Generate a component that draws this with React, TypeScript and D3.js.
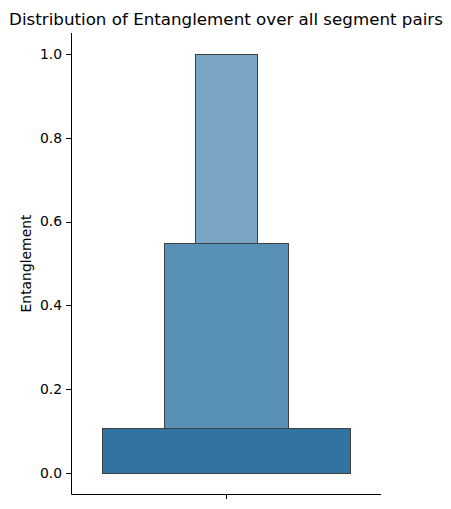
import React from "react";
import * as d3 from "d3";

const boxLower = [0, 0, 0];
const boxUpper = [0.107, 0.55, 1.0];
const boxWidth = [0.8, 0.4, 0.2];
const boxColor = ["#3274a1", "#5890b6", "#7ba5c5"];
const yTicks = [0.0, 0.2, 0.4, 0.6, 0.8, 1.0];
const category = [""];

const W = 451, H = 509;
const left = 71, right = 381, top = 33, bottom = 494;

const snap = (v: number) => Math.round(v) + 0.5;

export default function App() {
  const y = d3.scaleLinear().domain([-0.05, 1.05]).range([bottom, top]);
  const x = d3.scaleLinear().domain([-0.5, 0.5]).range([left, right]);
  const font = "DejaVu Sans, sans-serif";
  const order = d3.range(boxUpper.length).reverse();
  return (
    <svg width={W} height={H} style={{ position: "absolute", left: 0, top: 0, background: "#fff" }}>
      {order.map((i) => {
        const x0 = snap(x(-boxWidth[i] / 2));
        const x1 = snap(x(boxWidth[i] / 2));
        const y0 = snap(y(boxUpper[i]));
        const y1 = snap(y(boxLower[i]));
        return (
          <rect
            key={i}
            x={x0}
            y={y0}
            width={x1 - x0}
            height={y1 - y0}
            fill={boxColor[i]}
            stroke="#3f3f3f"
            strokeWidth={1}
          />
        );
      })}
      <line x1={snap(left)} x2={snap(left)} y1={top} y2={snap(bottom)} stroke="#000" strokeWidth={1} />
      <line x1={snap(left)} x2={right} y1={snap(bottom)} y2={snap(bottom)} stroke="#000" strokeWidth={1} />
      {yTicks.map((t) => (
        <g key={t}>
          <line x1={left - 5} x2={snap(left)} y1={snap(y(t))} y2={snap(y(t))} stroke="#000" />
          <text x={left - 9} y={y(t)} dy="0.35em" textAnchor="end" fontFamily={font} fontSize={13.9} fill="#000">
            {t.toFixed(1)}
          </text>
        </g>
      ))}
      {category.map((c, i) => (
        <g key={i}>
          <line x1={snap(x(i))} x2={snap(x(i))} y1={bottom} y2={bottom + 5} stroke="#000" />
          <text x={x(i)} y={bottom + 20} textAnchor="middle" fontFamily={font} fontSize={13.9}>{c}</text>
        </g>
      ))}
      <text
        transform={`translate(${31},${(top + bottom) / 2}) rotate(-90)`}
        textAnchor="middle"
        fontFamily={font}
        fontSize={13.9}
        fill="#000"
      >
        Entanglement
      </text>
      <text x={(left + right) / 2} y={25} textAnchor="middle" fontFamily={font} fontSize={16.7} fill="#000">
        Distribution of Entanglement over all segment pairs
      </text>
    </svg>
  );
}
